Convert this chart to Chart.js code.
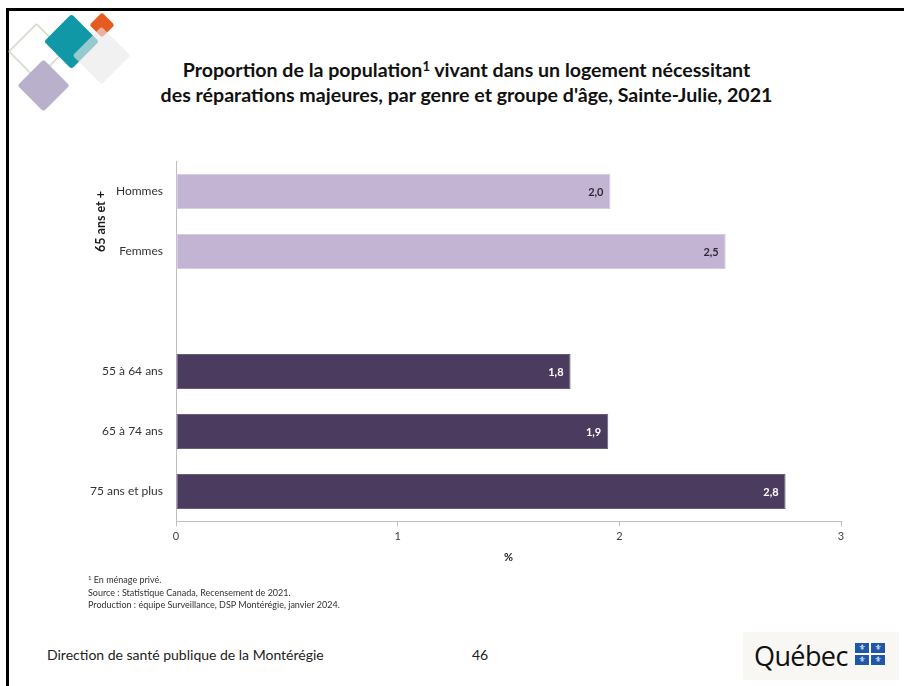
<!DOCTYPE html>
<html lang="fr">
<head>
<meta charset="utf-8">
<script src="https://cdn.jsdelivr.net/npm/chart.js@4.4.1/dist/chart.umd.min.js"></script>
<style>
  html, body { margin: 0; padding: 0; background: #fff; }
  body { width: 904px; height: 686px; position: relative; overflow: hidden; font-family: Lato, "Open Sans", sans-serif; color: #1a1a1a; }
  .frame-top { position: absolute; left: 6px; top: 8px; width: 898px; height: 3px; background: #000; }
  .frame-left { position: absolute; left: 6px; top: 8px; width: 3px; height: 678px; background: #000; }
  .dia { position: absolute; transform: rotate(45deg); border-radius: 3px; }
  .title { position: absolute; left: 0; width: 933px; top: 57px; text-align: center; font-weight: bold; font-size: 19.6px; line-height: 25px; color: #111; white-space: nowrap; }
  .title sup { font-size: 13px; vertical-align: 6px; line-height: 0; }
  #chartWrap { position: absolute; left: 0; top: 150px; width: 904px; height: 425px; }
  .notes { position: absolute; left: 88px; top: 574px; font-size: 9px; line-height: 12.5px; color: #333; }
  .notes sup { font-size: 6px; vertical-align: 3px; line-height: 0; }
  .footer { position: absolute; left: 47px; top: 646px; font-size: 14px; color: #222; white-space: nowrap; }
  .page { position: absolute; left: 472px; top: 646px; font-size: 14px; color: #222; }
  .qc { position: absolute; left: 743px; top: 632px; width: 156px; height: 48px; background: #f8f7f4; }
  .qc .word { position: absolute; left: 11px; top: 5px; font-family: "Open Sans", Lato, sans-serif; font-size: 27px; letter-spacing: -0.6px; color: #111; }
  .qc .flag { position: absolute; left: 112px; top: 11px; width: 30px; height: 22px; background: #1f58a8; }
  .qc .flag .h { position: absolute; left: 0; top: 10px; width: 30px; height: 2px; background: #fff; }
  .qc .flag .v { position: absolute; left: 14px; top: 0; width: 2px; height: 22px; background: #fff; }
  .qc .flag span { position: absolute; width: 14px; height: 10px; font-size: 8px; line-height: 10px; text-align: center; color: #fff; font-family: "DejaVu Sans", sans-serif; }
</style>
</head>
<body>
<div class="frame-top"></div>
<div class="frame-left"></div>

<!-- logo du coin -->
<div class="dia" style="left:16px;top:31px;width:37px;height:37px;border:2px solid #d9dfd0;background:transparent;"></div>
<div class="dia" style="left:25px;top:67px;width:37px;height:37px;background:#b9b0cc;"></div>
<div class="dia" style="left:52px;top:22px;width:39px;height:39px;background:#1198a7;"></div>
<div class="dia" style="left:93px;top:16px;width:18px;height:18px;background:#e65b22;"></div>
<div class="dia" style="left:81px;top:35px;width:41px;height:41px;background:rgba(232,232,232,0.62);"></div>

<div class="title">Proportion de la population<sup>1</sup> vivant dans un logement nécessitant<br>des réparations majeures, par genre et groupe d'âge, Sainte-Julie, 2021</div>

<div id="chartWrap"><canvas id="bars" width="904" height="425"></canvas></div>

<div class="notes"><sup>1</sup> En ménage privé.<br>Source : Statistique Canada, Recensement de 2021.<br>Production : équipe Surveillance, DSP Montérégie, janvier 2024.</div>

<div class="footer">Direction de santé publique de la Montérégie</div>
<div class="page">46</div>
<div class="qc">
  <div class="word">Québec</div>
  <div class="flag"><div class="h"></div><div class="v"></div>
    <span style="left:0;top:0">⚜</span><span style="left:16px;top:0">⚜</span>
    <span style="left:0;top:12px">⚜</span><span style="left:16px;top:12px">⚜</span>
  </div>
</div>

<script>
// données
const categories = ['Hommes', 'Femmes', '', '55 à 64 ans', '65 à 74 ans', '75 ans et plus'];
const values = [1.96, 2.48, null, 1.78, 1.95, 2.75];
const valueLabels = ['2,0', '2,5', '', '1,8', '1,9', '2,8'];
const xTicks = [0, 1, 2, 3];
const groupLabel = '65 ans et +';

const LIGHT = '#c2b4d2';
const DARK = '#4b3c5f';

const barLabels = {
  id: 'barLabels',
  afterDatasetsDraw(chart) {
    const ctx = chart.ctx;
    const meta = chart.getDatasetMeta(0);
    ctx.save();
    ctx.font = 'bold 11px Lato';
    ctx.textAlign = 'right';
    ctx.textBaseline = 'middle';
    meta.data.forEach((bar, i) => {
      if (values[i] == null) return;
      ctx.fillStyle = i < 2 ? '#2f2a3a' : '#ffffff';
      ctx.fillText(valueLabels[i], bar.x - 7, bar.y + 1);
    });
    ctx.restore();
  }
};

const groupTitle = {
  id: 'groupTitle',
  afterDraw(chart) {
    const ctx = chart.ctx;
    const y = chart.scales.y.getPixelForValue(0.5);
    ctx.save();
    ctx.translate(101, y);
    ctx.rotate(-Math.PI / 2);
    ctx.font = 'bold 12.5px Lato';
    ctx.fillStyle = '#1a1a1a';
    ctx.textAlign = 'center';
    ctx.textBaseline = 'middle';
    ctx.fillText(groupLabel, 0, 0);
    ctx.restore();
  }
};

new Chart(document.getElementById('bars'), {
  type: 'bar',
  data: {
    labels: categories,
    datasets: [{
      data: values,
      backgroundColor: categories.map((c, i) => i < 2 ? LIGHT : DARK),
      borderColor: categories.map((c, i) => i < 2 ? '#d6cde1' : '#6a5d7c'),
      borderWidth: 1,
      borderSkipped: false,
      barPercentage: 0.585,
      categoryPercentage: 1
    }]
  },
  options: {
    indexAxis: 'y',
    responsive: false,
    devicePixelRatio: 1,
    animation: false,
    layout: { padding: { left: 0, right: 63, top: 11.5, bottom: 0 } },
    plugins: { legend: { display: false }, tooltip: { enabled: false } },
    scales: {
      x: {
        min: 0,
        max: 3,
        afterBuildTicks: (scale) => { scale.ticks = xTicks.map(v => ({ value: v })); },
        afterFit: (scale) => { scale.height = 53.5; },
        grid: { drawOnChartArea: false, drawTicks: true, tickLength: 5, color: '#bfbfbf' },
        border: { display: true, color: '#bfbfbf', width: 1 },
        ticks: { font: { family: 'Lato', size: 11 }, color: '#404040', padding: 3 },
        title: { display: true, text: '%', font: { family: 'Lato', size: 11, weight: 'bold' }, color: '#222', padding: { top: 11, bottom: 11 } }
      },
      y: {
        afterFit: (scale) => {
          scale.width = 176;
          scale.paddingTop = 0;
          scale.paddingBottom = 0;
        },
        grid: { display: false, drawTicks: false },
        border: { display: true, color: '#bfbfbf', width: 1 },
        ticks: { font: { family: 'Lato', size: 12 }, color: '#333', padding: 13 }
      }
    }
  },
  plugins: [barLabels, groupTitle]
});
</script>
</body>
</html>
